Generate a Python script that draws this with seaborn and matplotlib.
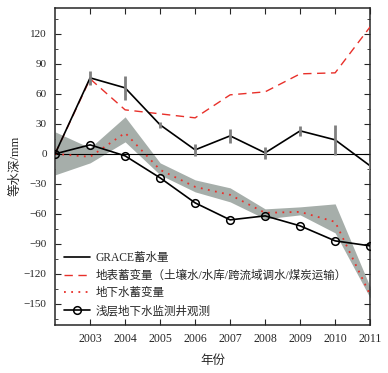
import matplotlib
matplotlib.use('Agg')
import matplotlib.pyplot as plt
import seaborn as sns
import pandas as pd
from matplotlib.ticker import MultipleLocator

years = [2002, 2003, 2004, 2005, 2006, 2007, 2008, 2009, 2010, 2011]
grace = [0, 76, 66, 29, 4, 18, 1, 23, 14, -12]
grace_err = [0, 7, 12, 3, 6, 7, 6, 5, 15, 5]
surface = [0, 75, 44, 40, 36, 59, 62, 80, 81, 127]
ground = [0, -3, 21, -16, -33, -41, -59, -58, -68, -141]
ground_lo = [-21, -9, 12, -21, -38, -48, -65, -61, -79, -144]
ground_hi = [22, 6, 37, -9, -26, -34, -55, -53, -50, -133]
well = [0, 9, -2, -24, -49, -66, -62, -72, -87, -92]

df = pd.DataFrame({'year': years, 'grace': grace, 'surface': surface,
                   'ground': ground, 'well': well})

sns.set_style('ticks')
plt.rcParams['font.family'] = ['Liberation Serif', 'Noto Sans CJK SC']
plt.rcParams['axes.unicode_minus'] = True

fig = plt.figure(figsize=(3.88, 3.73), dpi=100)
ax = fig.add_axes([0.142, 0.129, 0.812, 0.850])

ax.fill_between(years, ground_lo, ground_hi, color='#a6aeaa', lw=0, zorder=1)
ax.axhline(0, color='black', lw=0.8, zorder=2)

sns.lineplot(data=df, x='year', y='grace', ax=ax, color='black', lw=1.2,
             label='GRACE蓄水量', zorder=4)
sns.lineplot(data=df, x='year', y='surface', ax=ax, color='#e8302a', lw=1.0,
             dashes=False, label='地表蓄变量（土壤水/水库/跨流域调水/煤炭运输）',
             zorder=3)
ax.lines[-1].set_dashes([6, 4])
sns.lineplot(data=df, x='year', y='ground', ax=ax, color='#e8302a', lw=1.3,
             label='地下水蓄变量', zorder=3)
ax.lines[-1].set_dashes([1, 3])
sns.lineplot(data=df, x='year', y='well', ax=ax, color='black', lw=1.2,
             marker='o', markersize=5.5, markerfacecolor='none',
             markeredgecolor='black', markeredgewidth=1.1,
             label='浅层地下水监测井观测', zorder=4)

ax.errorbar(years[1:], grace[1:], yerr=grace_err[1:], fmt='none',
            ecolor='#7f7f7f', elinewidth=2, capsize=0, zorder=5)

ax.set_xlim(2002, 2011)
ax.set_ylim(-171, 146)
ax.set_xticks(years[1:])
ax.yaxis.set_major_locator(MultipleLocator(30))
ax.yaxis.set_minor_locator(MultipleLocator(15))
ax.tick_params(axis='both', which='both', direction='in', top=True,
               right=True, labelsize=8, pad=6)
ax.tick_params(axis='x', labelsize=8.5)
ax.tick_params(axis='x', which='minor', top=False, bottom=False)
ax.tick_params(which='major', length=4)
ax.tick_params(which='minor', length=2.5)
for s in ax.spines.values():
    s.set_linewidth(1.1)

ax.set_xlabel('年份', fontsize=9, labelpad=7)
ax.set_ylabel('等水深/mm', fontsize=9, labelpad=2)

leg = ax.legend(loc='lower left', frameon=False, fontsize=8.3,
                bbox_to_anchor=(0.0, -0.005), handlelength=2.2,
                handletextpad=0.5, labelspacing=0.5, borderaxespad=0.4)

fig.savefig('out.png', dpi=100)
